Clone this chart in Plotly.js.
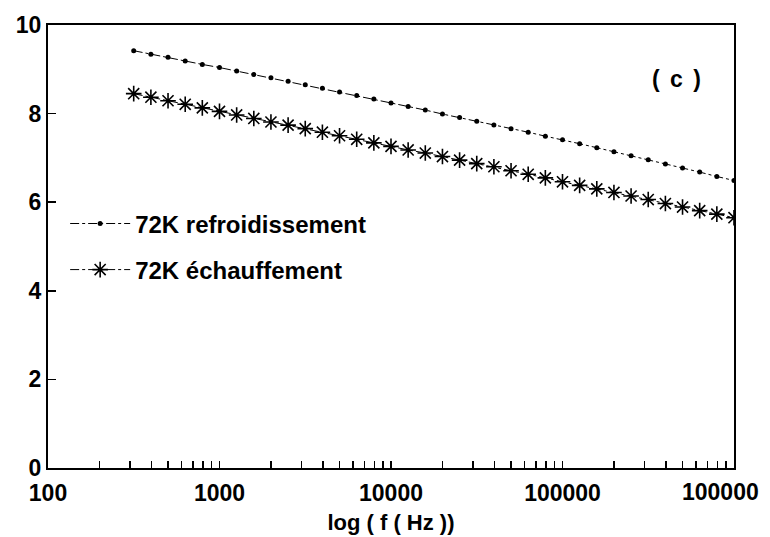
<!DOCTYPE html>
<html>
<head>
<meta charset="utf-8">
<script src="https://cdn.plot.ly/plotly-3.0.1.min.js"></script>
<style>
html,body{margin:0;padding:0;background:#fff;}
#chart{width:770px;height:537px;}
#chart .annotation[data-index="0"] .annotation-text{letter-spacing:2px;}
</style>
</head>
<body>
<div id="chart"></div>
<script>
// Frequencies (Hz)
var freq = [316, 398, 501, 631, 794, 1000, 1259, 1585, 1995, 2512,
            3162, 3981, 5012, 6310, 7943, 10000, 12589, 15849, 19953, 25119,
            31623, 39811, 50119, 63096, 79433, 100000, 125893, 158489, 199526, 251189,
            316228, 398107, 501187, 630957, 794328, 1000000];

// 72K refroidissement
var refroid = [9.42, 9.34, 9.27, 9.19, 9.11, 9.04, 8.96, 8.88, 8.81, 8.73,
               8.65, 8.57, 8.49, 8.41, 8.33, 8.24, 8.16, 8.08, 7.99, 7.91,
               7.83, 7.74, 7.66, 7.58, 7.49, 7.41, 7.32, 7.23, 7.14, 7.05,
               6.96, 6.86, 6.77, 6.68, 6.58, 6.49];

// 72K échauffement
var echauff = [8.45, 8.37, 8.29, 8.21, 8.13, 8.05, 7.97, 7.89, 7.81, 7.74,
               7.66, 7.58, 7.50, 7.42, 7.34, 7.26, 7.18, 7.11, 7.03, 6.95,
               6.87, 6.80, 6.71, 6.63, 6.55, 6.46, 6.38, 6.30, 6.22, 6.14,
               6.06, 5.97, 5.89, 5.81, 5.73, 5.65];

// x tick labels (the last one, at 10^6, is printed truncated in the original)
var xTickVals = [100, 1000, 10000, 100000, 1000000];
var xTickText = ["100", "1000", "10000", "100000", ""];
var lastTickLabel = "100000";
var yTickVals = [0, 2, 4, 6, 8, 10];

var names = ["72K refroidissement", "72K échauffement"];

var minorVals = [];
for (var d = 100; d < 1000000; d *= 10) {
  for (var k = 2; k <= 9; k++) minorVals.push(d * k);
}

var FONT = "Liberation Sans, Arial, Helvetica, sans-serif";

var traces = [
  {
    x: freq, y: refroid, type: "scatter", mode: "lines+markers",
    name: names[0],
    line: {color: "#000", width: 1, dash: "dashdot"},
    marker: {symbol: "circle", size: 5, color: "#000"},
    legend: "legend"
  },
  {
    x: freq, y: echauff, type: "scatter", mode: "lines+markers",
    name: names[1],
    line: {color: "#000", width: 1, dash: "dashdot"},
    marker: {symbol: "asterisk", size: 13, color: "#000", line: {color: "#000", width: 1.6}},
    legend: "legend2"
  }
];

var legendFont = {family: FONT, size: 24, weight: "bold", color: "#000"};
var tickFont = {family: FONT, size: 23, weight: "bold", color: "#000"};

var layout = {
  width: 770, height: 537,
  margin: {l: 48, r: 36, t: 25, b: 69},
  paper_bgcolor: "#fff", plot_bgcolor: "#fff",
  font: {family: FONT, color: "#000"},
  showlegend: true,
  legend: {
    x: 0.025, y: 0.551, xanchor: "left", yanchor: "middle",
    itemwidth: 60,
    bgcolor: "rgba(0,0,0,0)", borderwidth: 0,
    font: legendFont
  },
  legend2: {
    x: 0.025, y: 0.447, xanchor: "left", yanchor: "middle",
    itemwidth: 60,
    bgcolor: "rgba(0,0,0,0)", borderwidth: 0,
    font: legendFont
  },
  xaxis: {
    type: "log", range: [1.99995, 6.00005],
    tickmode: "array", tickvals: xTickVals, ticktext: xTickText,
    ticks: "inside", ticklen: 7, tickwidth: 1.5, tickcolor: "#000",
    minor: {tickmode: "array", tickvals: minorVals, ticks: "inside", ticklen: 7, tickwidth: 1.5, tickcolor: "#000", showgrid: false},
    showgrid: false, zeroline: false,
    showline: true, linecolor: "#000", linewidth: 2, mirror: true,
    ticklabelstandoff: 3,
    tickfont: tickFont,
    title: {text: "log ( f ( Hz ))", font: {family: FONT, size: 22, weight: "bold", color: "#000"}, standoff: 10}
  },
  yaxis: {
    range: [0, 10],
    tickmode: "array", tickvals: yTickVals,
    ticks: "inside", ticklen: 8, tickwidth: 1.5, tickcolor: "#000",
    showgrid: false, zeroline: false,
    showline: true, linecolor: "#000", linewidth: 2, mirror: true,
    tickfont: tickFont
  },
  annotations: [
    {xref: "paper", yref: "paper", x: 0.918, y: 0.878, text: "( c )", showarrow: false,
     xanchor: "center", yanchor: "middle",
     font: {family: FONT, size: 23, weight: "bold", color: "#000"}},
    {xref: "x", yref: "paper", x: 6, y: 0, text: lastTickLabel, showarrow: false,
     xanchor: "center", yanchor: "middle", xshift: -13, yshift: -24,
     font: tickFont}
  ]
};

Plotly.newPlot("chart", traces, layout, {displayModeBar: false, staticPlot: true});
</script>
</body>
</html>
